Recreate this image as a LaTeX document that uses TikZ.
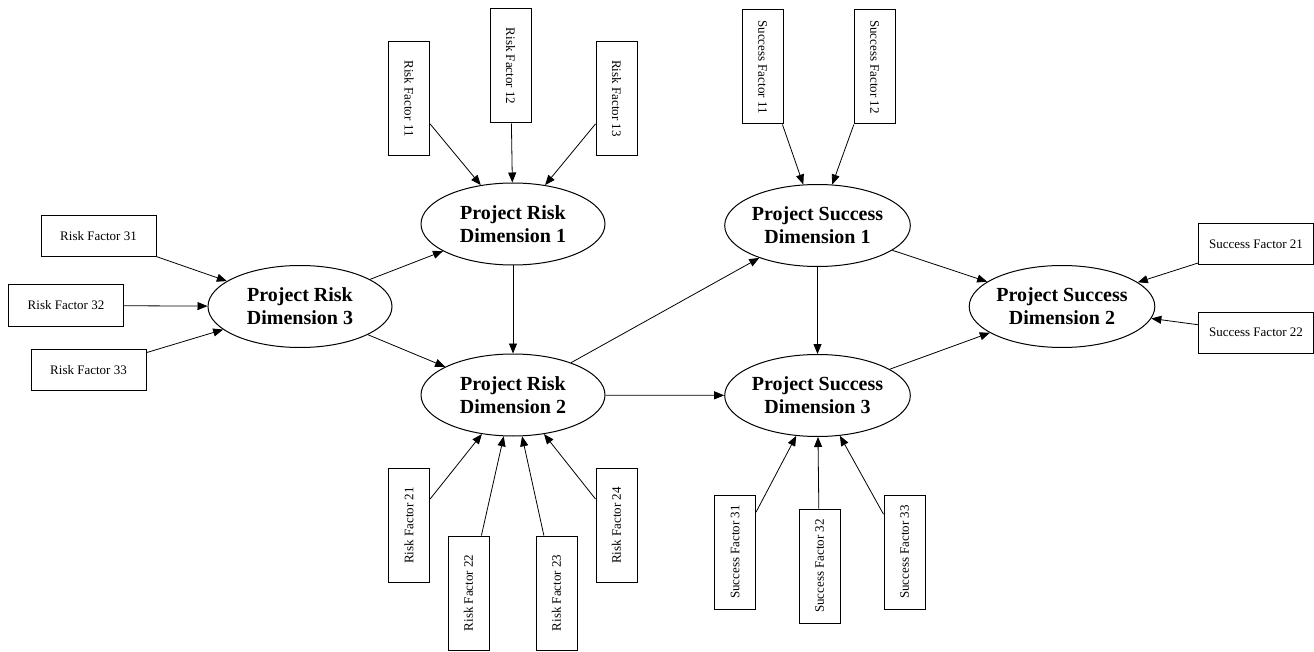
\documentclass[tikz,border=0pt]{standalone}
\usepackage{fontspec}
\setmainfont{Liberation Serif}
\usetikzlibrary{shapes.geometric,arrows.meta}
\tikzset{
  dim/.style={ellipse,draw,line width=1pt,minimum width=184pt,minimum height=82pt,
    inner sep=0pt,align=center,font=\fontsize{20}{23}\selectfont\bfseries},
  hfac/.style={rectangle,draw,line width=1pt,minimum width=115pt,minimum height=41pt,
    inner sep=0pt,font=\fontsize{13}{15}\selectfont},
  vfac/.style={rectangle,draw,line width=1pt,minimum width=41pt,minimum height=114pt,
    inner sep=0pt,font=\fontsize{13}{15}\selectfont},
  link/.style={-{Triangle[length=10pt,width=8pt]},line width=0.8pt},
}
\begin{document}
\begin{tikzpicture}[x=1pt,y=-1pt]
            \useasboundingbox (0,0) rectangle (1314,652);
            % Dimensiones
            \node[dim] (prd1) at (513,224) {Project Risk\\Dimension 1};
            \node[dim] (prd2) at (513,395) {Project Risk\\Dimension 2};
            \node[dim] (prd3) at (300,306.5) {Project Risk\\Dimension 3};
            \node[dim] (psd1) at (817.5,225.5) {Project Success\\Dimension 1};
            \node[dim] (psd2) at (1062,306.5) {Project Success\\Dimension 2};
            \node[dim] (psd3) at (817.5,395.5) {Project Success\\Dimension 3};
            % Factores de riesgo
            \node[vfac] (rf11) at (409,98.5) {\rotatebox{-90}{Risk Factor 11}};
            \node[vfac] (rf12) at (510.5,66) {\rotatebox{-90}{Risk Factor 12}};
            \node[vfac] (rf13) at (616.5,98.5) {\rotatebox{-90}{Risk Factor 13}};
            \node[vfac] (rf21) at (409,525.5) {\rotatebox{90}{Risk Factor 21}};
            \node[vfac] (rf22) at (468.5,593) {\rotatebox{90}{Risk Factor 22}};
            \node[vfac] (rf23) at (556.5,593) {\rotatebox{90}{Risk Factor 23}};
            \node[vfac] (rf24) at (616.5,525.5) {\rotatebox{90}{Risk Factor 24}};
            \node[hfac] (rf31) at (98.5,236.5) {Risk Factor 31};
            \node[hfac] (rf32) at (66,305.5) {Risk Factor 32};
            \node[hfac] (rf33) at (88.5,370) {Risk Factor 33};
            % Factores de exito
            \node[vfac] (sf11) at (762.5,67) {\rotatebox{-90}{Success Factor 11}};
            \node[vfac] (sf12) at (874.5,67) {\rotatebox{-90}{Success Factor 12}};
            \node[hfac] (sf21) at (1256,244.5) {Success Factor 21};
            \node[hfac] (sf22) at (1256,332.5) {Success Factor 22};
            \node[vfac] (sf31) at (735,552) {\rotatebox{90}{Success Factor 31}};
            \node[vfac] (sf32) at (819.5,566) {\rotatebox{90}{Success Factor 32}};
            \node[vfac] (sf33) at (904.5,552) {\rotatebox{90}{Success Factor 33}};
            % Flechas
            \draw[link] (rf11) -- (prd1);
            \draw[link] (rf12) -- (prd1);
            \draw[link] (rf13) -- (prd1);
            \draw[link] (rf31) -- (prd3);
            \draw[link] (rf32) -- (prd3);
            \draw[link] (rf33) -- (prd3);
            \draw[link] (rf21) -- (prd2);
            \draw[link] (rf22) -- (prd2);
            \draw[link] (rf23) -- (prd2);
            \draw[link] (rf24) -- (prd2);
            \draw[link] (prd3) -- (prd1);
            \draw[link] (prd3) -- (prd2);
            \draw[link] (prd1) -- (prd2);
            \draw[link] (prd2) -- (psd1);
            \draw[link] (prd2) -- (psd3);
            \draw[link] (psd1) -- (psd3);
            \draw[link] (psd1) -- (psd2);
            \draw[link] (psd3) -- (psd2);
            \draw[link] (sf11) -- (psd1);
            \draw[link] (sf12) -- (psd1);
            \draw[link] (sf21) -- (psd2);
            \draw[link] (sf22) -- (psd2);
            \draw[link] (sf31) -- (psd3);
            \draw[link] (sf32) -- (psd3);
            \draw[link] (sf33) -- (psd3);
        \end{tikzpicture}
\end{document}
